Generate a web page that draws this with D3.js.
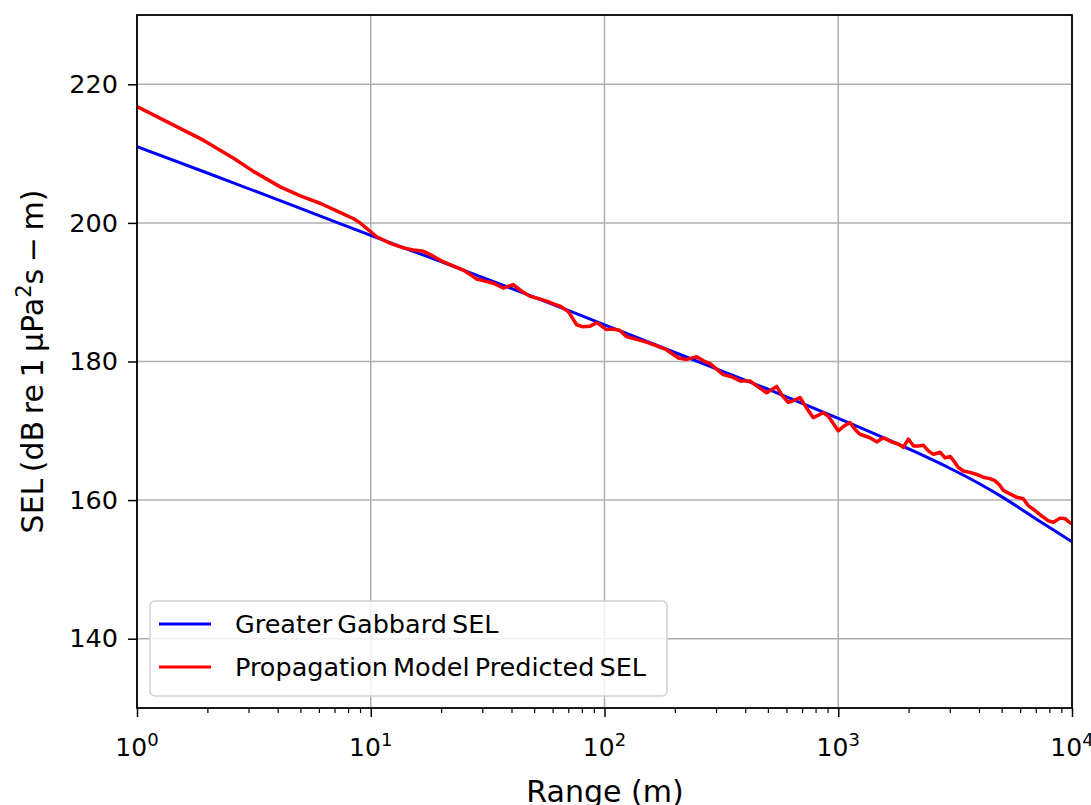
<!DOCTYPE html>
<html>
<head>
<meta charset="utf-8">
<script src="https://cdn.jsdelivr.net/npm/d3@7"></script>
<style>
  body { margin: 0; background: #fff; }
  text { font-family: "DejaVu Sans", sans-serif; fill: #000; }
</style>
</head>
<body>
<svg id="chart" width="1091" height="805"></svg>
<script>
// values
const blueRange = [1, 2, 5, 10, 20, 50, 100, 200, 500, 1000, 2000, 3000, 4000, 5000, 6000, 7000, 8500, 10000]
const blueSEL = [211.0, 207.2, 202.1, 198.2, 194.4, 189.3, 185.3, 181.3, 176.0, 171.8, 167.4, 164.6, 162.4, 160.5, 158.8, 157.3, 155.5, 154.0]

const redRange = [1, 1.93, 2.6, 3.16, 4.1, 5, 6.1, 7.3, 8.45, 9.0, 10.6, 12.2, 13.8, 15.2, 16.8, 18.5, 20.4, 22.5, 24.9, 26.5,
  28.4, 30.8, 33.4, 36.9, 40.7, 44, 48, 52, 56.6, 60.5, 64.5, 70, 76, 81, 86.7, 92.6, 102, 108, 116, 124,
  137, 151, 166, 184, 207, 225, 248, 265, 283, 322, 350, 380, 419, 455, 494, 545, 575, 611, 650, 686,
  735, 782, 863, 907, 1000, 1060, 1122, 1180, 1239, 1367, 1460, 1560, 1690, 1806, 1897, 1995, 2100, 2200, 2315, 2430,
  2553, 2725, 2865, 3010, 3160, 3265, 3430, 3660, 3910, 4170, 4455, 4680, 4920, 5085, 5430, 5810, 6190, 6500, 6950, 7430,
  7930, 8330, 8890, 9370, 9830, 10000]
const redSEL = [216.8, 211.9, 209.3, 207.4, 205.2, 203.9, 202.8, 201.6, 200.6, 200.0, 198.0, 197.0, 196.4, 196.1, 195.9, 195.2, 194.4, 193.8, 193.2, 192.6,
  191.9, 191.6, 191.3, 190.6, 191.1, 190.2, 189.4, 189.1, 188.7, 188.3, 188.0, 187.2, 185.3, 185.0, 185.1, 185.6, 184.6, 184.7, 184.5, 183.6,
  183.2, 182.8, 182.3, 181.7, 180.5, 180.3, 180.7, 180.1, 179.7, 178.1, 177.8, 177.2, 177.2, 176.3, 175.5, 176.4, 175.1, 174.1, 174.4, 174.8,
  173.2, 171.9, 172.6, 172.1, 170.0, 170.7, 171.2, 170.2, 169.5, 169.0, 168.4, 169.0, 168.4, 168.1, 167.6, 168.8, 167.8, 167.8, 167.9, 167.1,
  166.6, 166.9, 166.1, 166.3, 165.4, 164.7, 164.2, 164.0, 163.7, 163.3, 163.1, 162.8, 162.1, 161.4, 160.9, 160.4, 160.2, 159.2, 158.5, 157.7,
  157.0, 156.8, 157.4, 157.3, 156.7, 156.6]

const xTicks = [1, 10, 100, 1000, 10000]
const xTickExp = ['0', '1', '2', '3', '4']
const yTicks = [140, 160, 180, 200, 220]

const seriesNames = ['Greater Gabbard SEL', 'Propagation Model Predicted SEL']
const seriesColors = ['#0000ff', '#ff0000']

const svg = d3.select('#chart')
const pLeft = 137, pRight = 1072, pTop = 15, pBottom = 708

const x = d3.scaleLog().domain([1, 10000]).range([pLeft, pRight])
const y = d3.scaleLinear().domain([130, 230]).range([pBottom, pTop])

// minor ticks 2..9 per decade
var minor = []
for (var d = 1; d < 10000; d *= 10) {
  for (var k = 2; k < 10; k++) minor.push(d * k)
}

// grid
svg.append('g')
  .selectAll('line')
  .data(xTicks)
  .join('line')
    .attr('x1', d => x(d)).attr('x2', d => x(d))
    .attr('y1', pTop).attr('y2', pBottom)
    .attr('stroke', '#b0b0b0').attr('stroke-width', 1.5)
svg.append('g')
  .selectAll('line')
  .data(yTicks)
  .join('line')
    .attr('x1', pLeft).attr('x2', pRight)
    .attr('y1', d => y(d)).attr('y2', d => y(d))
    .attr('stroke', '#b0b0b0').attr('stroke-width', 1.5)

svg.append('clipPath').attr('id', 'clip')
  .append('rect').attr('x', pLeft).attr('y', pTop).attr('width', pRight - pLeft).attr('height', pBottom - pTop)

const blueData = blueRange.map((r, i) => ({r: r, v: blueSEL[i]}))
const redData = redRange.map((r, i) => ({r: r, v: redSEL[i]}))

svg.append('path')
  .datum(blueData)
  .attr('clip-path', 'url(#clip)')
  .attr('fill', 'none')
  .attr('stroke', seriesColors[0])
  .attr('stroke-width', 3)
  .attr('d', d3.line().curve(d3.curveMonotoneX).x(d => x(d.r)).y(d => y(d.v)))

svg.append('path')
  .datum(redData)
  .attr('clip-path', 'url(#clip)')
  .attr('fill', 'none')
  .attr('stroke', seriesColors[1])
  .attr('stroke-width', 3.5)
  .attr('stroke-linejoin', 'round')
  .attr('d', d3.line().x(d => x(d.r)).y(d => y(d.v)))

// axes
const xAxis = svg.append('g')
  .attr('transform', 'translate(0,' + pBottom + ')')
  .call(d3.axisBottom(x).tickValues(xTicks).tickSize(9).tickFormat(''))
xAxis.select('.domain').remove()
xAxis.selectAll('.tick line').attr('stroke', '#000').attr('stroke-width', 1.5)

const xMinor = svg.append('g')
  .attr('transform', 'translate(0,' + pBottom + ')')
  .call(d3.axisBottom(x).tickValues(minor).tickSize(5).tickFormat(''))
xMinor.select('.domain').remove()
xMinor.selectAll('.tick line').attr('stroke', '#000').attr('stroke-width', 1.2)

const xLabels = svg.append('g')
  .selectAll('text')
  .data(xTicks)
  .join('text')
    .attr('x', d => x(d))
    .attr('y', 756)
    .attr('text-anchor', 'middle')
    .style('font-size', '25px')
xLabels.append('tspan').text('10')
xLabels.append('tspan').attr('dy', -10).style('font-size', '18px').text((d, i) => xTickExp[i])

const yAxis = svg.append('g')
  .attr('transform', 'translate(' + pLeft + ',0)')
  .call(d3.axisLeft(y).tickValues(yTicks).tickSize(9).tickPadding(10))
yAxis.select('.domain').remove()
yAxis.selectAll('.tick line').attr('stroke', '#000').attr('stroke-width', 1.5)
yAxis.selectAll('.tick text').style('font-size', '25.5px').attr('fill', '#000')
  .style('font-family', '"DejaVu Sans", sans-serif')

// frame
svg.append('rect')
  .attr('x', pLeft).attr('y', pTop).attr('width', pRight - pLeft).attr('height', pBottom - pTop)
  .attr('fill', 'none').attr('stroke', '#000').attr('stroke-width', 1.8)

// axis titles
svg.append('text')
  .attr('x', 605)
  .attr('y', 802)
  .attr('text-anchor', 'middle')
  .style('font-size', '30px')
  .text('Range (m)')

const yTitle = svg.append('text')
  .attr('transform', 'translate(43,' + (pTop + pBottom) / 2 + ') rotate(-90)')
  .attr('text-anchor', 'middle')
  .style('font-size', '30px')
  .style('word-spacing', '-3px')
yTitle.append('tspan').text('SEL (dB re 1 μPa')
yTitle.append('tspan').attr('dy', -12).style('font-size', '21px').text('2')
yTitle.append('tspan').attr('dy', 12).text('s − m)')

// legend
const legend = svg.append('g')
legend.append('rect')
  .attr('x', 150).attr('y', 601).attr('width', 517).attr('height', 95)
  .attr('rx', 5)
  .attr('fill', '#fff').attr('fill-opacity', 0.8)
  .attr('stroke', '#d0d0d0').attr('stroke-width', 1.5)
const rows = legend.selectAll('.row')
  .data(seriesNames)
  .join('g')
    .attr('class', 'row')
    .attr('transform', (d, i) => 'translate(0,' + (624 + i * 43) + ')')
rows.append('line')
  .attr('x1', 159).attr('x2', 211)
  .attr('stroke', (d, i) => seriesColors[i]).attr('stroke-width', 3)
rows.append('text')
  .attr('x', 235).attr('dy', '0.35em')
  .style('font-size', '25.5px')
  .style('word-spacing', '-3px')
  .text(d => d)
</script>
</body>
</html>
